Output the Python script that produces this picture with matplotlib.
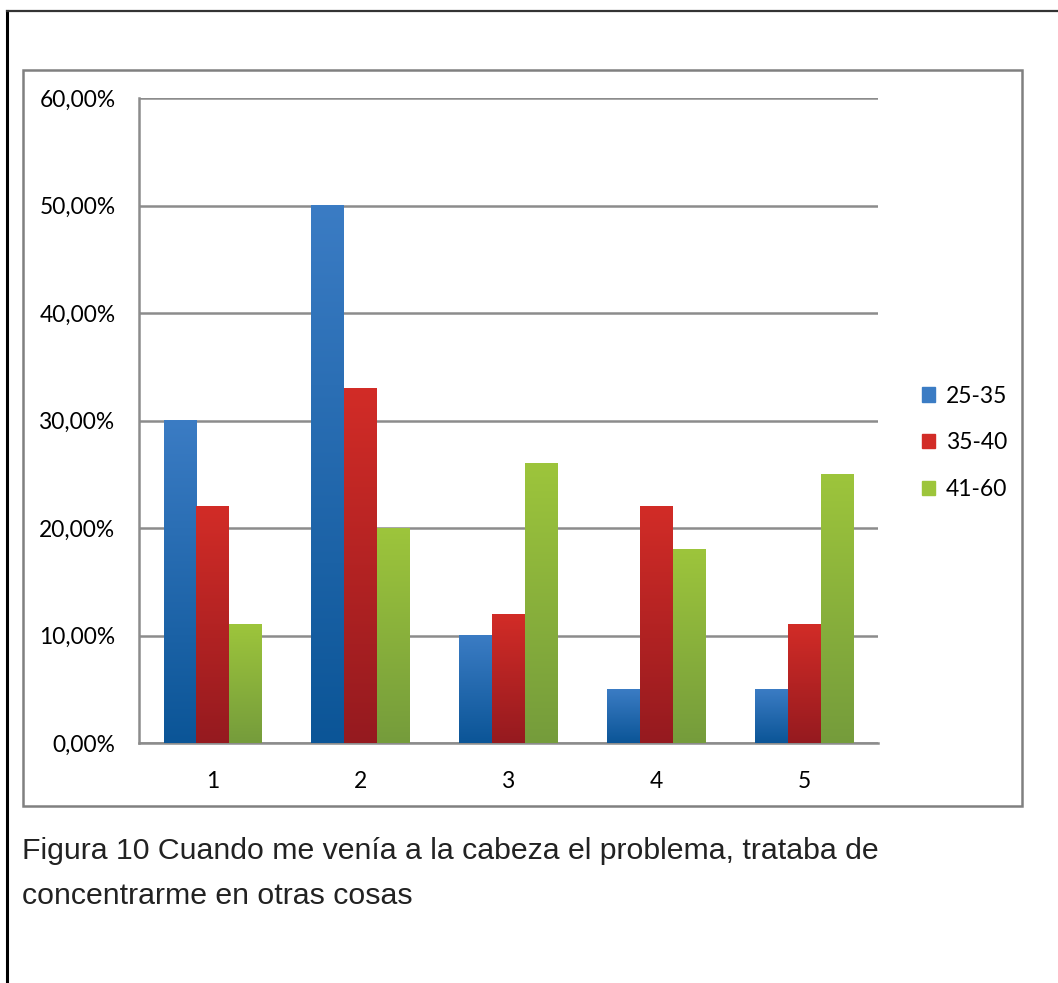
import matplotlib
matplotlib.use("Agg")
import matplotlib.pyplot as plt
import numpy as np
from matplotlib.patches import Rectangle
from matplotlib.colors import LinearSegmentedColormap
from matplotlib.ticker import FuncFormatter

# Data: percentage of answers per option, by age group
categories = ["1", "2", "3", "4", "5"]
groups = ["25-35", "35-40", "41-60"]
g25_35 = [30, 50, 10, 5, 5]
g35_40 = [22, 33, 12, 22, 11]
g41_60 = [11, 20, 26, 18, 25]
yticks = [0, 10, 20, 30, 40, 50, 60]

series = [g25_35, g35_40, g41_60]
# top / bottom colours of each bar gradient
shades = [("#3b7cc4", "#0b5597"), ("#d22c27", "#951a1f"), ("#9dc53b", "#759c3c")]

W, H = 1058, 983
fig = plt.figure(figsize=(W / 100, H / 100), dpi=100)

def fx(px):
    return px / W

def fy(py):
    return 1 - py / H

# page border (left and top)
fig.add_artist(plt.Line2D([fx(7), fx(7)], [fy(11), 0], color="black", lw=2.2))
fig.add_artist(plt.Line2D([fx(7), 1], [fy(11), fy(11)], color="#333333", lw=1.6))
# chart frame
fig.add_artist(Rectangle((fx(23), fy(806)), fx(1022 - 23), (806 - 70) / H,
                         fill=False, edgecolor="#808080", lw=1.8))

ax = fig.add_axes([fx(139), fy(743), fx(878 - 139), (743 - 98) / H])

x = np.arange(1, len(categories) + 1)
bw = 0.222
grad = np.linspace(1, 0, 256).reshape(-1, 1)
for i, (vals, (top, bot)) in enumerate(zip(series, shades)):
    bars = ax.bar(x + (i - 1) * bw, vals, bw, color=bot, label=groups[i], zorder=3)
    cmap = LinearSegmentedColormap.from_list("g%d" % i, [bot, top])
    for b in bars:
        x0, w, h = b.get_x(), b.get_width(), b.get_height()
        ax.imshow(grad, cmap=cmap, aspect="auto", extent=(x0, x0 + w, 0, h),
                  zorder=3.5, interpolation="bilinear")

ax.set_xlim(0.5, 5.5)
ax.set_ylim(0, 60)
ax.set_yticks(yticks)
ax.yaxis.set_major_formatter(FuncFormatter(lambda v, p: ("%.2f%%" % v).replace(".", ",")))
ax.set_xticks(x)
ax.set_xticklabels(categories)
ax.grid(axis="y", color="#8c8c8c", lw=1.8, zorder=1)
for s in ["top", "right"]:
    ax.spines[s].set_visible(False)
for s in ["left", "bottom"]:
    ax.spines[s].set_color("#8c8c8c")
    ax.spines[s].set_linewidth(1.8)
ax.tick_params(length=0, labelsize=16.4, colors="black")
ax.tick_params(axis="y", pad=17)
ax.tick_params(axis="x", pad=20)
for lab in ax.get_xticklabels() + ax.get_yticklabels():
    lab.set_family("Lato")

handles = [Rectangle((0, 0), 1, 1, color=t) for t, b in shades]
leg = fig.legend(handles, groups, loc="upper left", bbox_to_anchor=(fx(901), fy(365)),
                 frameon=False, handlelength=0.6, handleheight=0.6, handletextpad=0.45,
                 labelspacing=1.12, prop={"family": "Lato", "size": 16.5})

caption = ("Figura 10 Cuando me venía a la cabeza el problema, trataba de\n"
           "concentrarme en otras cosas")
fig.text(fx(22), fy(837), caption, fontsize=21.8, family="Liberation Sans",
         color="#222222", va="top", ha="left", linespacing=1.77)

fig.savefig("out.png", dpi=100)
